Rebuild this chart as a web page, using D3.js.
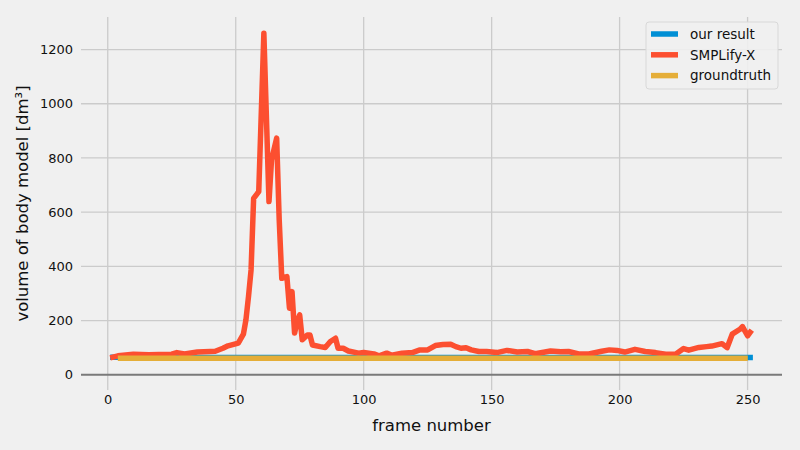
<!DOCTYPE html>
<html>
<head>
<meta charset="utf-8">
<script src="https://cdn.jsdelivr.net/npm/d3@7"></script>
<style>
  body { margin: 0; background: #f0f0f0; }
  svg { display: block; font-family: "DejaVu Sans", sans-serif; }
</style>
</head>
<body>
<svg id="vis" width="800" height="450"></svg>
<script>
// frame number, volume [dm3]
const ourResult = [[2, 65], [40, 64], [80, 64], [120, 64], [160, 64], [200, 64], [251, 64]];
const smplifyX = [
  [2, 65], [4, 70], [10, 76], [16, 74], [20, 75], [25, 76], [27, 82], [30, 77], [35, 84],
  [40, 86], [42, 87], [45, 98], [47, 107], [51, 117], [53, 150], [54, 203], [55, 289],
  [56, 387], [57, 651], [59, 676], [61, 1260], [63, 639], [64, 793], [66, 873], [67, 571],
  [68, 356], [70, 362], [71, 246], [72, 307], [73, 154], [74, 197], [75, 221], [76, 129],
  [78, 147], [79, 147], [80, 110], [83, 104], [85, 101], [87, 123], [89, 135], [90, 98],
  [92, 98], [94, 88], [98, 80], [100, 82], [104, 77], [106, 70], [109, 80], [111, 72],
  [115, 80], [119, 82], [122, 92], [125, 92], [128, 108], [131, 112], [134, 113], [136, 104],
  [138, 98], [140, 100], [142, 92], [145, 86], [148, 86], [152, 82], [156, 90], [160, 84],
  [164, 86], [167, 78], [173, 88], [177, 85], [180, 86], [184, 77], [188, 77], [193, 87],
  [196, 92], [199, 90], [202, 84], [206, 94], [210, 86], [214, 82], [218, 76], [222, 77],
  [225, 97], [227, 91], [231, 101], [234, 104], [236, 106], [240, 115], [242, 100],
  [244, 150], [247, 168], [248, 178], [250, 144], [251, 157]
];
const groundtruth = [[5, 61], [60, 61], [120, 61], [180, 61], [249, 61]];

const seriesNames = ["our result", "SMPLify-X", "groundtruth"];
const seriesColors = ["#008fd5", "#fc4f30", "#e5ae38"];
const xTicks = [0, 50, 100, 150, 200, 250];
const yTicks = [0, 200, 400, 600, 800, 1000, 1200];

const plotArea = { left: 81, right: 782, top: 17, bottom: 390 };

const svg = d3.select("svg#vis");
svg.append("rect").attr("width", 800).attr("height", 450).attr("fill", "#f0f0f0");

const x = d3.scaleLinear().domain([-10.45, 263.45]).range([plotArea.left, plotArea.right]);
const y = d3.scaleLinear().domain([-56, 1320]).range([plotArea.bottom, plotArea.top]);

// grid
const grid = svg.append("g").attr("id", "grid");
grid.selectAll("line.vgrid").data(xTicks).enter().append("line")
  .attr("x1", d => x(d)).attr("x2", d => x(d))
  .attr("y1", plotArea.top).attr("y2", plotArea.bottom)
  .attr("stroke", "#cbcbcb").attr("stroke-width", 1.3);
grid.selectAll("line.hgrid").data(yTicks.filter(d => d !== 0)).enter().append("line")
  .attr("x1", plotArea.left).attr("x2", plotArea.right)
  .attr("y1", d => y(d)).attr("y2", d => y(d))
  .attr("stroke", "#cbcbcb").attr("stroke-width", 1.3);

// baseline at zero
svg.append("line")
  .attr("x1", plotArea.left).attr("x2", plotArea.right)
  .attr("y1", y(0)).attr("y2", y(0))
  .attr("stroke", "#7a7a7a").attr("stroke-width", 2);

// axes (labels only, fivethirtyeight has no spines)
const xAxis = d3.axisBottom(x).tickValues(xTicks).tickSize(0).tickPadding(0).tickFormat(d3.format("d"));
const yAxis = d3.axisLeft(y).tickValues(yTicks).tickSize(0).tickPadding(0).tickFormat(d3.format("d"));

const xGroup = svg.append("g").attr("transform", "translate(0," + (plotArea.bottom + 5) + ")").call(xAxis);
const yGroup = svg.append("g").attr("transform", "translate(" + (plotArea.left - 8) + ",0)").call(yAxis);
[xGroup, yGroup].forEach(g => {
  g.select(".domain").remove();
  g.selectAll("text").attr("font-size", 13).attr("fill", "#111").attr("font-family", "DejaVu Sans");
});

// lines
const line = d3.line().x(d => x(d[0])).y(d => y(d[1]));
const lines = svg.append("g").attr("id", "lines");
[ourResult, smplifyX, groundtruth].forEach((data, i) => {
  lines.append("path")
    .datum(data)
    .attr("d", line)
    .attr("fill", "none")
    .attr("stroke", seriesColors[i])
    .attr("stroke-width", 5.5)
    .attr("stroke-linejoin", "round")
    .attr("stroke-linecap", "square");
});

// axis labels
svg.append("text")
  .attr("x", (plotArea.left + plotArea.right) / 2).attr("y", 431)
  .attr("text-anchor", "middle").attr("font-size", 16.5).attr("fill", "#111")
  .text("frame number");
svg.append("text")
  .attr("transform", "translate(28," + ((plotArea.top + plotArea.bottom) / 2) + ") rotate(-90)")
  .attr("text-anchor", "middle").attr("font-size", 16.5).attr("fill", "#111")
  .text("volume of body model [dm³]");

// legend
const legend = svg.append("g").attr("id", "legend").attr("transform", "translate(646,22)");
legend.append("rect")
  .attr("width", 132).attr("height", 67).attr("rx", 3)
  .attr("fill", "#f0f0f0").attr("fill-opacity", 0.9)
  .attr("stroke", "#d8d8d8").attr("stroke-width", 1);
const items = legend.selectAll("g.item").data(seriesNames).enter().append("g")
  .attr("transform", (d, i) => "translate(0," + (12 + i * 20.8) + ")");
items.append("line")
  .attr("x1", 5).attr("x2", 32).attr("y1", 0).attr("y2", 0)
  .attr("stroke", (d, i) => seriesColors[i]).attr("stroke-width", 5.5);
items.append("text")
  .attr("x", 44).attr("y", 0).attr("dy", "0.35em")
  .attr("font-size", 13.5).attr("fill", "#111")
  .text(d => d);
</script>
</body>
</html>
